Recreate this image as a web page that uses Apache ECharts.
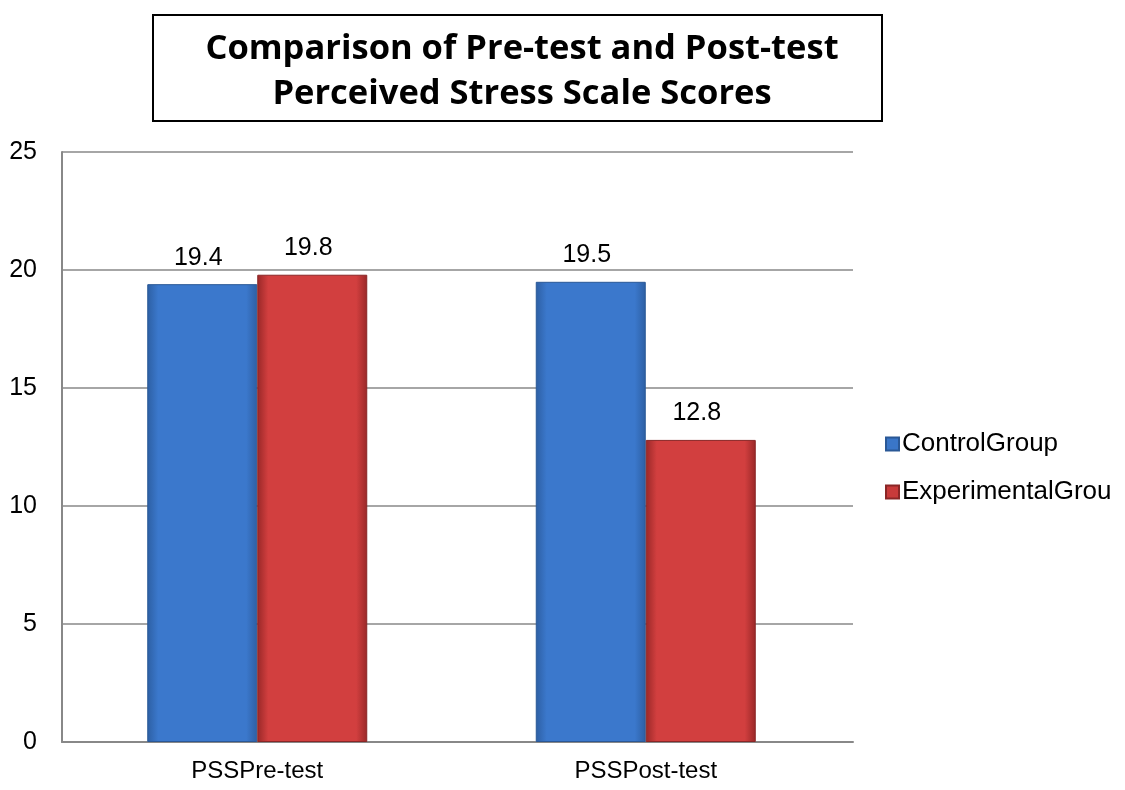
<!DOCTYPE html>
<html><head><meta charset="utf-8">
<script src="https://cdn.jsdelivr.net/npm/echarts@6/dist/echarts.min.js"></script>
<style>html,body{margin:0;padding:0;background:#fff}#c{width:1125px;height:790px}</style>
</head><body><div id="c"></div>
<script>
const categories = ['PSSPre-test', 'PSSPost-test'];
const controlGroup = [19.4, 19.5];
const experimentalGroup = [19.8, 12.8];
const seriesNames = ['ControlGroup', 'ExperimentalGrou'];
const titleLines = ['Comparison of Pre-test and Post-test', 'Perceived Stress Scale Scores'];

function grad(edge, mid) {
  return new echarts.graphic.LinearGradient(0, 0, 1, 0, [
    {offset: 0, color: edge}, {offset: 0.1, color: mid}, {offset: 0.9, color: mid}, {offset: 1, color: edge}
  ]);
}
const F = 'Liberation Sans, Arial';
const chart = echarts.init(document.getElementById('c'));
const labelCfg = {show: true, position: 'top', distance: 14, offset: [-4, 0], color: '#000', fontSize: 25, fontFamily: F};
chart.setOption({
  animation: false,
  graphic: [{type: 'rect', z: -1, shape: {x: 153, y: 15, width: 729, height: 106}, style: {fill: '#fff', stroke: '#000', lineWidth: 2}}],
  title: {text: titleLines.join('\n'), left: 517, textAlign: 'center', top: 22,
    textStyle: {fontFamily: 'Open Sans', fontWeight: 'bold', fontSize: 34.5, lineHeight: 45, color: '#000'}},
  legend: {orient: 'vertical', left: 880, top: 426, itemWidth: 13, itemHeight: 13, itemGap: 22,
    textStyle: {fontSize: 26, fontFamily: F, color: '#000', padding: [0,0,0,-2]},
    data: seriesNames.map((n, i) => ({name: n, icon: 'rect', itemStyle: {color: i ? '#c83a3a' : '#3a76c8'}}))},
  grid: [
    {left: 63, top: 152, width: 777, height: 590, containLabel: false},
    {left: 62, top: 152, width: 791, height: 590, containLabel: false}
  ],
  xAxis: [
    {type: 'category', data: categories, gridIndex: 0,
      axisLine: {show: false}, axisTick: {show: false},
      axisLabel: {fontSize: 24, color: '#000', margin: 17, fontFamily: F}},
    {type: 'category', data: categories, gridIndex: 1,
      axisLine: {lineStyle: {color: '#888', width: 2}}, axisTick: {show: false}, axisLabel: {show: false}}
  ],
  yAxis: [
    {type: 'value', min: 0, max: 25, interval: 5, gridIndex: 0,
      axisLine: {show: false}, axisTick: {show: false}, splitLine: {show: false}, axisLabel: {show: false}},
    {type: 'value', min: 0, max: 25, interval: 5, gridIndex: 1,
      axisLine: {show: true, lineStyle: {color: '#888', width: 2}}, axisTick: {show: false},
      splitLine: {lineStyle: {color: '#888', width: 1.5}},
      axisLabel: {fontSize: 25, color: '#000', margin: 25, fontFamily: F}}
  ],
  series: [
    {name: seriesNames[0], type: 'bar', data: controlGroup, barWidth: 110, barGap: '0%', z: 3,
      itemStyle: {color: grad('#2d5fa3', '#3b78cc'), borderColor: '#2a5896', borderWidth: 1}, label: labelCfg},
    {name: seriesNames[1], type: 'bar', data: experimentalGroup, barWidth: 110, barGap: '0%', z: 3,
      itemStyle: {color: grad('#992828', '#d23f3f'), borderColor: '#8a2626', borderWidth: 1}, label: labelCfg}
  ]
});
</script></body></html>
